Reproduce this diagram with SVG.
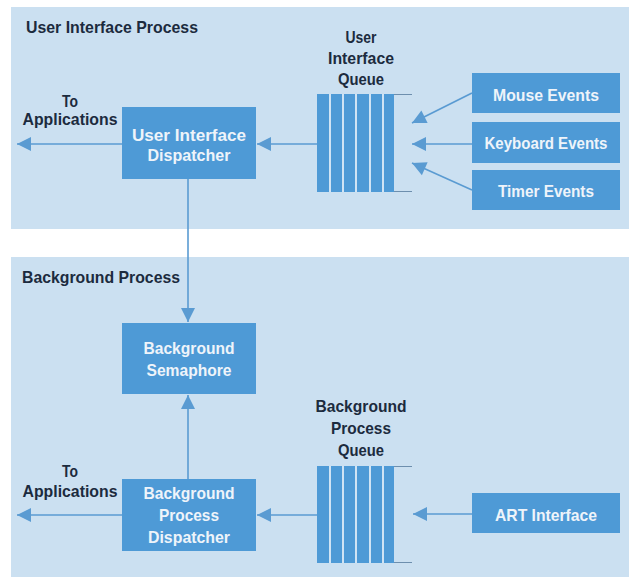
<svg xmlns="http://www.w3.org/2000/svg" width="629" height="577" viewBox="0 0 629 577">
<defs>
<style>
.panel{fill:#cbe0f1}
.box{fill:#4e9ad6}
.bt{font-family:"Liberation Sans",Arial,sans-serif;font-weight:bold;font-size:17px;fill:#eef4fa;text-anchor:middle}
.lt{font-family:"Liberation Sans",Arial,sans-serif;font-weight:bold;font-size:17px;fill:#1c2b3e}
.ltm{text-anchor:middle}
.con{stroke:#5a9bd2;stroke-width:1.6;fill:none}
.qline{stroke:#6d8fae;stroke-width:1}
.stripe{stroke:#f2f7fc;stroke-width:1.6}
</style>
<marker id="ah" markerUnits="userSpaceOnUse" markerWidth="16" markerHeight="16" viewBox="0 0 16 16" refX="15" refY="8" orient="auto">
<path d="M1,1 L15,8 L1,15 Z" fill="#5a9bd2"/>
</marker>
</defs>
<rect width="629" height="577" fill="#ffffff"/>
<rect class="panel" x="11" y="7" width="618" height="222"/>
<rect class="panel" x="11" y="257" width="618" height="320"/>
<text class="lt" x="26" y="33" textLength="172" lengthAdjust="spacingAndGlyphs">User Interface Process</text>
<text class="lt" x="22" y="283" textLength="158" lengthAdjust="spacingAndGlyphs">Background Process</text>

<g id="connectors">
<line class="con" x1="122" y1="144" x2="17" y2="144" marker-end="url(#ah)"/>
<line class="con" x1="317" y1="144" x2="257" y2="144" marker-end="url(#ah)"/>
<line class="con" x1="472" y1="93" x2="412" y2="123" marker-end="url(#ah)"/>
<line class="con" x1="472" y1="144" x2="412" y2="144" marker-end="url(#ah)"/>
<line class="con" x1="472" y1="190" x2="412" y2="163" marker-end="url(#ah)"/>
<line class="con" x1="188" y1="179" x2="188" y2="322" marker-end="url(#ah)"/>
<line class="con" x1="188" y1="479" x2="188" y2="395" marker-end="url(#ah)"/>
<line class="con" x1="122" y1="515" x2="17" y2="515" marker-end="url(#ah)"/>
<line class="con" x1="317" y1="515" x2="257" y2="515" marker-end="url(#ah)"/>
<line class="con" x1="472" y1="514" x2="413" y2="514" marker-end="url(#ah)"/>
</g>

<g id="to-apps-1">
<text class="lt ltm" x="70" y="107" textLength="16" lengthAdjust="spacingAndGlyphs">To</text>
<text class="lt ltm" x="70" y="125" textLength="95" lengthAdjust="spacingAndGlyphs">Applications</text>
</g>
<g id="to-apps-2">
<text class="lt ltm" x="70" y="477" textLength="16" lengthAdjust="spacingAndGlyphs">To</text>
<text class="lt ltm" x="70" y="497" textLength="95" lengthAdjust="spacingAndGlyphs">Applications</text>
</g>

<g id="ui-dispatcher">
<rect class="box" x="122" y="107" width="134" height="72"/>
<text class="bt" x="189" y="141" textLength="114" lengthAdjust="spacingAndGlyphs">User Interface</text>
<text class="bt" x="189" y="161" textLength="83" lengthAdjust="spacingAndGlyphs">Dispatcher</text>
</g>

<g id="ui-queue">
<text class="lt ltm" x="361" y="43" textLength="31" lengthAdjust="spacingAndGlyphs">User</text>
<text class="lt ltm" x="361" y="64" textLength="66" lengthAdjust="spacingAndGlyphs">Interface</text>
<text class="lt ltm" x="361" y="85" textLength="46" lengthAdjust="spacingAndGlyphs">Queue</text>
<rect class="box" x="317" y="94" width="77" height="98"/>
<line class="stripe" x1="330" y1="94" x2="330" y2="192"/>
<line class="stripe" x1="343" y1="94" x2="343" y2="192"/>
<line class="stripe" x1="356" y1="94" x2="356" y2="192"/>
<line class="stripe" x1="370" y1="94" x2="370" y2="192"/>
<line class="stripe" x1="383" y1="94" x2="383" y2="192"/>
<line class="qline" x1="394" y1="94.5" x2="412" y2="94.5"/>
<line class="qline" x1="394" y1="191.5" x2="412" y2="191.5"/>
</g>

<g id="mouse-events">
<rect class="box" x="472" y="73" width="148" height="40"/>
<text class="bt" x="546" y="101" textLength="106" lengthAdjust="spacingAndGlyphs">Mouse Events</text>
</g>
<g id="keyboard-events">
<rect class="box" x="472" y="122" width="148" height="41"/>
<text class="bt" x="546" y="149" textLength="123" lengthAdjust="spacingAndGlyphs">Keyboard Events</text>
</g>
<g id="timer-events">
<rect class="box" x="472" y="170" width="148" height="40"/>
<text class="bt" x="546" y="197" textLength="96" lengthAdjust="spacingAndGlyphs">Timer Events</text>
</g>

<g id="bg-semaphore">
<rect class="box" x="122" y="323" width="134" height="71"/>
<text class="bt" x="189" y="354" textLength="91" lengthAdjust="spacingAndGlyphs">Background</text>
<text class="bt" x="189" y="376" textLength="85" lengthAdjust="spacingAndGlyphs">Semaphore</text>
</g>

<g id="bg-dispatcher">
<rect class="box" x="122" y="479" width="134" height="72"/>
<text class="bt" x="189" y="499" textLength="91" lengthAdjust="spacingAndGlyphs">Background</text>
<text class="bt" x="189" y="521" textLength="60" lengthAdjust="spacingAndGlyphs">Process</text>
<text class="bt" x="189" y="543" textLength="82" lengthAdjust="spacingAndGlyphs">Dispatcher</text>
</g>

<g id="bg-queue">
<text class="lt ltm" x="361" y="412" textLength="91" lengthAdjust="spacingAndGlyphs">Background</text>
<text class="lt ltm" x="361" y="434" textLength="60" lengthAdjust="spacingAndGlyphs">Process</text>
<text class="lt ltm" x="361" y="456" textLength="46" lengthAdjust="spacingAndGlyphs">Queue</text>
<rect class="box" x="317" y="466" width="77" height="97"/>
<line class="stripe" x1="330" y1="466" x2="330" y2="563"/>
<line class="stripe" x1="343" y1="466" x2="343" y2="563"/>
<line class="stripe" x1="356" y1="466" x2="356" y2="563"/>
<line class="stripe" x1="370" y1="466" x2="370" y2="563"/>
<line class="stripe" x1="383" y1="466" x2="383" y2="563"/>
<line class="qline" x1="394" y1="466.5" x2="412" y2="466.5"/>
<line class="qline" x1="394" y1="562.5" x2="412" y2="562.5"/>
</g>

<g id="art-interface">
<rect class="box" x="472" y="493" width="148" height="40"/>
<text class="bt" x="546" y="521" textLength="102" lengthAdjust="spacingAndGlyphs">ART Interface</text>
</g>
</svg>
